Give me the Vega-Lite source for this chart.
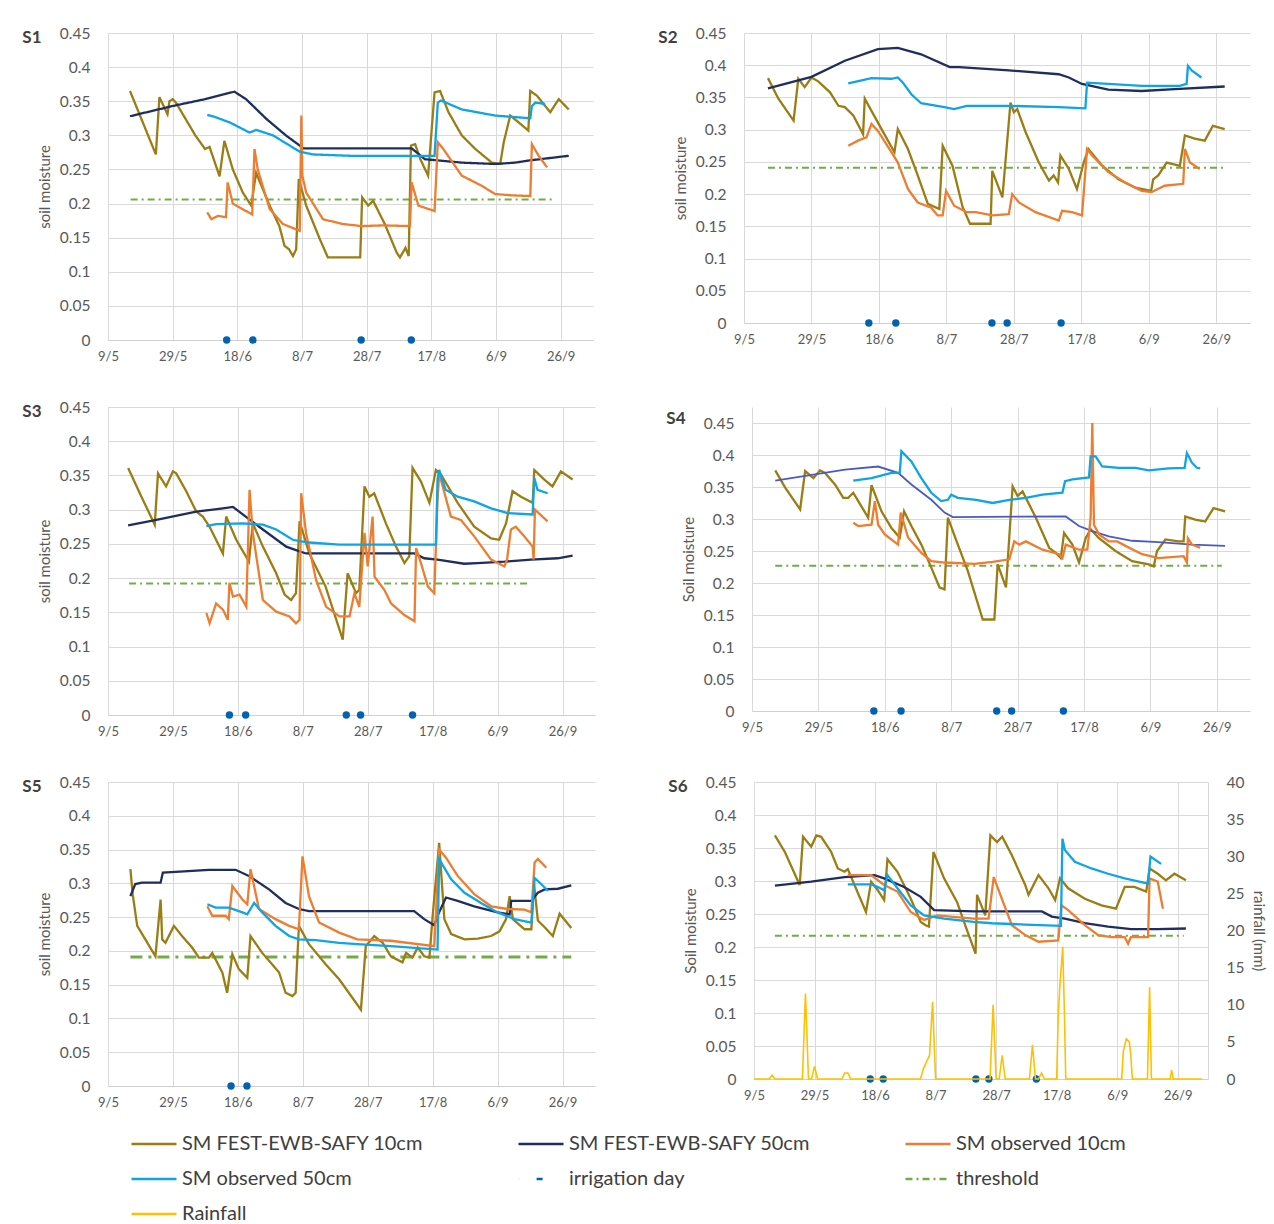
{
  "$schema": "https://vega.github.io/schema/vega-lite/v6.json",
  "background": "white",
  "padding": {"left": 22, "top": 26, "right": 2, "bottom": 2},
  "config": {
    "font": "Lato",
    "view": {"stroke": null},
    "axis": {"grid": true, "gridColor": "#d9d9d9", "gridWidth": 1, "ticks": false, "domain": false, "labelColor": "#595959", "titleColor": "#595959", "titleFontWeight": "normal", "labelFont": "Lato", "titleFont": "Lato"},
    "axisX": {"labelFontSize": 13, "labelPadding": 10, "labelFlush": false, "domain": true, "domainColor": "#d0d0d0"},
    "axisY": {"labelFontSize": 15.5, "labelPadding": 18, "titleFontSize": 15, "titlePadding": 7},
    "title": {"fontSize": 17, "fontWeight": "bold", "color": "#404040", "anchor": "start", "frame": "bounds", "offset": -21, "dx": -15},
    "legend": {"labelFontSize": 20, "labelColor": "#404040", "labelFont": "Lato", "symbolSize": 2025, "symbolStrokeWidth": 2.5, "symbolType": "stroke", "clipHeight": 22, "rowPadding": 13, "columnPadding": 93, "gridAlign": "all", "labelOffset": 4, "labelLimit": 400},
    "line": {"strokeWidth": 2.3},
    "point": {"filled": true, "size": 55, "opacity": 1}
  },
  "datasets": {
    "S1": [
      {"series":"thr","day":7,"sm":0.206},{"series":"thr","day":137.3,"sm":0.206},
      {"series":"m10","day":6.8,"sm":0.365},{"series":"m10","day":14.8,"sm":0.272},{"series":"m10","day":15.9,"sm":0.356},{"series":"m10","day":18.4,"sm":0.331},{"series":"m10","day":19,"sm":0.35},{"series":"m10","day":20,"sm":0.353},{"series":"m10","day":21,"sm":0.348},{"series":"m10","day":24,"sm":0.324},{"series":"m10","day":27,"sm":0.3},{"series":"m10","day":30,"sm":0.28},{"series":"m10","day":31.4,"sm":0.283},{"series":"m10","day":34.5,"sm":0.24},{"series":"m10","day":36,"sm":0.292},{"series":"m10","day":38.6,"sm":0.25},{"series":"m10","day":41.7,"sm":0.216},{"series":"m10","day":44.3,"sm":0.197},{"series":"m10","day":45.8,"sm":0.245},{"series":"m10","day":50,"sm":0.197},{"series":"m10","day":53,"sm":0.167},{"series":"m10","day":54.6,"sm":0.138},{"series":"m10","day":56,"sm":0.133},{"series":"m10","day":57.2,"sm":0.123},{"series":"m10","day":58.2,"sm":0.133},{"series":"m10","day":59,"sm":0.236},{"series":"m10","day":61.3,"sm":0.197},{"series":"m10","day":65.5,"sm":0.148},{"series":"m10","day":68,"sm":0.121},{"series":"m10","day":78,"sm":0.121},{"series":"m10","day":78.6,"sm":0.209},{"series":"m10","day":80.5,"sm":0.197},{"series":"m10","day":82,"sm":0.204},{"series":"m10","day":85.6,"sm":0.17},{"series":"m10","day":89.3,"sm":0.128},{"series":"m10","day":90.3,"sm":0.121},{"series":"m10","day":92,"sm":0.135},{"series":"m10","day":93,"sm":0.123},{"series":"m10","day":93.7,"sm":0.285},{"series":"m10","day":95,"sm":0.287},{"series":"m10","day":96.6,"sm":0.265},{"series":"m10","day":99,"sm":0.241},{"series":"m10","day":101,"sm":0.363},{"series":"m10","day":102.7,"sm":0.365},{"series":"m10","day":105.3,"sm":0.334},{"series":"m10","day":109.4,"sm":0.3},{"series":"m10","day":113.6,"sm":0.28},{"series":"m10","day":118.7,"sm":0.26},{"series":"m10","day":121.3,"sm":0.258},{"series":"m10","day":122.4,"sm":0.29},{"series":"m10","day":124.4,"sm":0.329},{"series":"m10","day":127,"sm":0.319},{"series":"m10","day":130,"sm":0.307},{"series":"m10","day":130.6,"sm":0.365},{"series":"m10","day":132.7,"sm":0.358},{"series":"m10","day":135.2,"sm":0.343},{"series":"m10","day":136.8,"sm":0.334},{"series":"m10","day":139.4,"sm":0.353},{"series":"m10","day":142.5,"sm":0.338},
      {"series":"m50","day":6.8,"sm":0.328},{"series":"m50","day":20,"sm":0.343},{"series":"m50","day":30,"sm":0.353},{"series":"m50","day":39.1,"sm":0.364},{"series":"m50","day":42.7,"sm":0.353},{"series":"m50","day":49,"sm":0.324},{"series":"m50","day":55,"sm":0.3},{"series":"m50","day":59.3,"sm":0.285},{"series":"m50","day":60.3,"sm":0.281},{"series":"m50","day":93.9,"sm":0.281},{"series":"m50","day":98,"sm":0.265},{"series":"m50","day":109.4,"sm":0.26},{"series":"m50","day":119.7,"sm":0.258},{"series":"m50","day":126,"sm":0.26},{"series":"m50","day":130,"sm":0.263},{"series":"m50","day":142.5,"sm":0.27},
      {"series":"o10","day":30.7,"sm":0.187},{"series":"o10","day":32,"sm":0.177},{"series":"o10","day":34,"sm":0.182},{"series":"o10","day":36.5,"sm":0.18},{"series":"o10","day":37,"sm":0.231},{"series":"o10","day":38.6,"sm":0.2},{"series":"o10","day":42.7,"sm":0.189},{"series":"o10","day":44.6,"sm":0.184},{"series":"o10","day":45.3,"sm":0.28},{"series":"o10","day":46.3,"sm":0.25},{"series":"o10","day":50,"sm":0.192},{"series":"o10","day":54.1,"sm":0.17},{"series":"o10","day":59.3,"sm":0.16},{"series":"o10","day":59.8,"sm":0.329},{"series":"o10","day":60.1,"sm":0.241},{"series":"o10","day":61.3,"sm":0.216},{"series":"o10","day":66.5,"sm":0.177},{"series":"o10","day":72.7,"sm":0.17},{"series":"o10","day":78.4,"sm":0.167},{"series":"o10","day":85,"sm":0.168},{"series":"o10","day":93.4,"sm":0.167},{"series":"o10","day":93.9,"sm":0.231},{"series":"o10","day":96,"sm":0.197},{"series":"o10","day":101,"sm":0.189},{"series":"o10","day":102,"sm":0.29},{"series":"o10","day":103.7,"sm":0.28},{"series":"o10","day":109.4,"sm":0.241},{"series":"o10","day":115.6,"sm":0.226},{"series":"o10","day":119.7,"sm":0.214},{"series":"o10","day":125,"sm":0.212},{"series":"o10","day":130.6,"sm":0.211},{"series":"o10","day":131.1,"sm":0.287},{"series":"o10","day":133.2,"sm":0.27},{"series":"o10","day":135.8,"sm":0.253},
      {"series":"o50","day":30.7,"sm":0.33},{"series":"o50","day":33,"sm":0.327},{"series":"o50","day":37.6,"sm":0.319},{"series":"o50","day":43.8,"sm":0.304},{"series":"o50","day":45.8,"sm":0.308},{"series":"o50","day":51,"sm":0.3},{"series":"o50","day":56.2,"sm":0.285},{"series":"o50","day":59.3,"sm":0.276},{"series":"o50","day":63.4,"sm":0.272},{"series":"o50","day":75,"sm":0.27},{"series":"o50","day":93.9,"sm":0.27},{"series":"o50","day":101,"sm":0.27},{"series":"o50","day":102,"sm":0.348},{"series":"o50","day":103,"sm":0.351},{"series":"o50","day":109.4,"sm":0.338},{"series":"o50","day":119.7,"sm":0.329},{"series":"o50","day":130.6,"sm":0.325},{"series":"o50","day":131.1,"sm":0.343},{"series":"o50","day":132.2,"sm":0.348},{"series":"o50","day":135.2,"sm":0.346},
      {"series":"irr","day":36.7,"sm":0},{"series":"irr","day":44.8,"sm":0},{"series":"irr","day":78.3,"sm":0},{"series":"irr","day":93.8,"sm":0}
    ],
    "S2": [
      {"series":"thr","day":7.1,"sm":0.241},{"series":"thr","day":142.5,"sm":0.241},
      {"series":"m10","day":7.1,"sm":0.38},{"series":"m10","day":10.2,"sm":0.348},{"series":"m10","day":14.7,"sm":0.314},{"series":"m10","day":16.1,"sm":0.379},{"series":"m10","day":18,"sm":0.366},{"series":"m10","day":20,"sm":0.381},{"series":"m10","day":22,"sm":0.375},{"series":"m10","day":25.5,"sm":0.358},{"series":"m10","day":28,"sm":0.337},{"series":"m10","day":29.9,"sm":0.335},{"series":"m10","day":32.4,"sm":0.322},{"series":"m10","day":35.3,"sm":0.293},{"series":"m10","day":35.8,"sm":0.348},{"series":"m10","day":39.7,"sm":0.311},{"series":"m10","day":44.6,"sm":0.265},{"series":"m10","day":45.6,"sm":0.301},{"series":"m10","day":48.6,"sm":0.27},{"series":"m10","day":51.5,"sm":0.229},{"series":"m10","day":54.5,"sm":0.185},{"series":"m10","day":57.9,"sm":0.177},{"series":"m10","day":58.9,"sm":0.275},{"series":"m10","day":61.8,"sm":0.244},{"series":"m10","day":64.8,"sm":0.18},{"series":"m10","day":67,"sm":0.154},{"series":"m10","day":73.1,"sm":0.154},{"series":"m10","day":73.6,"sm":0.236},{"series":"m10","day":76.6,"sm":0.195},{"series":"m10","day":79,"sm":0.342},{"series":"m10","day":80,"sm":0.327},{"series":"m10","day":81,"sm":0.332},{"series":"m10","day":83.5,"sm":0.296},{"series":"m10","day":87.4,"sm":0.249},{"series":"m10","day":90.4,"sm":0.221},{"series":"m10","day":91.8,"sm":0.229},{"series":"m10","day":93.1,"sm":0.218},{"series":"m10","day":93.8,"sm":0.26},{"series":"m10","day":96.3,"sm":0.239},{"series":"m10","day":98.7,"sm":0.208},{"series":"m10","day":100.7,"sm":0.249},{"series":"m10","day":102.1,"sm":0.27},{"series":"m10","day":106.2,"sm":0.244},{"series":"m10","day":111,"sm":0.223},{"series":"m10","day":116,"sm":0.21},{"series":"m10","day":120.7,"sm":0.205},{"series":"m10","day":121.3,"sm":0.223},{"series":"m10","day":122.8,"sm":0.229},{"series":"m10","day":125.3,"sm":0.249},{"series":"m10","day":129.2,"sm":0.244},{"series":"m10","day":130.7,"sm":0.291},{"series":"m10","day":133.6,"sm":0.286},{"series":"m10","day":136.6,"sm":0.283},{"series":"m10","day":139,"sm":0.306},{"series":"m10","day":142.5,"sm":0.301},
      {"series":"m50","day":7.1,"sm":0.364},{"series":"m50","day":20,"sm":0.382},{"series":"m50","day":29.9,"sm":0.407},{"series":"m50","day":39.7,"sm":0.425},{"series":"m50","day":45.6,"sm":0.427},{"series":"m50","day":52.5,"sm":0.417},{"series":"m50","day":61,"sm":0.397},{"series":"m50","day":63.8,"sm":0.397},{"series":"m50","day":78.5,"sm":0.392},{"series":"m50","day":93.3,"sm":0.386},{"series":"m50","day":96.3,"sm":0.381},{"series":"m50","day":100.2,"sm":0.371},{"series":"m50","day":108,"sm":0.362},{"series":"m50","day":117.9,"sm":0.36},{"series":"m50","day":127.7,"sm":0.363},{"series":"m50","day":142.5,"sm":0.367},
      {"series":"o10","day":30.9,"sm":0.275},{"series":"o10","day":33.8,"sm":0.283},{"series":"o10","day":36.3,"sm":0.288},{"series":"o10","day":37.8,"sm":0.309},{"series":"o10","day":39.7,"sm":0.298},{"series":"o10","day":43.7,"sm":0.265},{"series":"o10","day":45.6,"sm":0.249},{"series":"o10","day":48.6,"sm":0.208},{"series":"o10","day":51.5,"sm":0.187},{"series":"o10","day":55.5,"sm":0.179},{"series":"o10","day":57.4,"sm":0.167},{"series":"o10","day":58.9,"sm":0.167},{"series":"o10","day":59.9,"sm":0.205},{"series":"o10","day":62.3,"sm":0.182},{"series":"o10","day":66,"sm":0.172},{"series":"o10","day":68.7,"sm":0.172},{"series":"o10","day":73.6,"sm":0.167},{"series":"o10","day":78.5,"sm":0.169},{"series":"o10","day":79.5,"sm":0.2},{"series":"o10","day":81.5,"sm":0.187},{"series":"o10","day":86.4,"sm":0.172},{"series":"o10","day":93.3,"sm":0.159},{"series":"o10","day":94.3,"sm":0.174},{"series":"o10","day":97.3,"sm":0.172},{"series":"o10","day":100.2,"sm":0.167},{"series":"o10","day":101.7,"sm":0.27},{"series":"o10","day":103.2,"sm":0.26},{"series":"o10","day":108,"sm":0.234},{"series":"o10","day":113,"sm":0.218},{"series":"o10","day":117.9,"sm":0.205},{"series":"o10","day":120.8,"sm":0.203},{"series":"o10","day":124.7,"sm":0.213},{"series":"o10","day":130.2,"sm":0.216},{"series":"o10","day":130.7,"sm":0.27},{"series":"o10","day":132.2,"sm":0.249},{"series":"o10","day":135.1,"sm":0.239},
      {"series":"o50","day":30.9,"sm":0.372},{"series":"o50","day":37.8,"sm":0.38},{"series":"o50","day":43.7,"sm":0.379},{"series":"o50","day":45.6,"sm":0.381},{"series":"o50","day":47.1,"sm":0.373},{"series":"o50","day":49.6,"sm":0.355},{"series":"o50","day":52.5,"sm":0.341},{"series":"o50","day":59.4,"sm":0.335},{"series":"o50","day":62.3,"sm":0.332},{"series":"o50","day":66,"sm":0.337},{"series":"o50","day":78.5,"sm":0.337},{"series":"o50","day":93.3,"sm":0.335},{"series":"o50","day":101.2,"sm":0.333},{"series":"o50","day":101.7,"sm":0.373},{"series":"o50","day":108,"sm":0.371},{"series":"o50","day":117.9,"sm":0.368},{"series":"o50","day":129.2,"sm":0.368},{"series":"o50","day":131.2,"sm":0.371},{"series":"o50","day":131.6,"sm":0.399},{"series":"o50","day":132.7,"sm":0.392},{"series":"o50","day":135.6,"sm":0.381},
      {"series":"irr","day":37,"sm":0},{"series":"irr","day":45,"sm":0},{"series":"irr","day":73.5,"sm":0},{"series":"irr","day":78,"sm":0},{"series":"irr","day":94,"sm":0}
    ],
    "S3": [
      {"series":"thr","day":6.5,"sm":0.192},{"series":"thr","day":130.3,"sm":0.192},
      {"series":"m10","day":6.2,"sm":0.361},{"series":"m10","day":10.3,"sm":0.319},{"series":"m10","day":14.4,"sm":0.278},{"series":"m10","day":15.4,"sm":0.353},{"series":"m10","day":17.9,"sm":0.334},{"series":"m10","day":20,"sm":0.356},{"series":"m10","day":21,"sm":0.353},{"series":"m10","day":24.1,"sm":0.327},{"series":"m10","day":27.2,"sm":0.297},{"series":"m10","day":29.2,"sm":0.29},{"series":"m10","day":31.3,"sm":0.275},{"series":"m10","day":35.4,"sm":0.236},{"series":"m10","day":36.4,"sm":0.29},{"series":"m10","day":39.5,"sm":0.256},{"series":"m10","day":43.4,"sm":0.224},{"series":"m10","day":44.6,"sm":0.28},{"series":"m10","day":47.7,"sm":0.246},{"series":"m10","day":51.8,"sm":0.207},{"series":"m10","day":54.4,"sm":0.176},{"series":"m10","day":56.4,"sm":0.168},{"series":"m10","day":57.9,"sm":0.178},{"series":"m10","day":59,"sm":0.283},{"series":"m10","day":62,"sm":0.236},{"series":"m10","day":67,"sm":0.188},{"series":"m10","day":72.3,"sm":0.11},{"series":"m10","day":73.8,"sm":0.207},{"series":"m10","day":76.4,"sm":0.178},{"series":"m10","day":77.4,"sm":0.183},{"series":"m10","day":79,"sm":0.334},{"series":"m10","day":80.5,"sm":0.319},{"series":"m10","day":82,"sm":0.324},{"series":"m10","day":85.6,"sm":0.28},{"series":"m10","day":88.7,"sm":0.246},{"series":"m10","day":91.3,"sm":0.222},{"series":"m10","day":92.8,"sm":0.232},{"series":"m10","day":93.8,"sm":0.361},{"series":"m10","day":96.4,"sm":0.341},{"series":"m10","day":99,"sm":0.31},{"series":"m10","day":101,"sm":0.358},{"series":"m10","day":102.6,"sm":0.351},{"series":"m10","day":107.7,"sm":0.31},{"series":"m10","day":112.8,"sm":0.275},{"series":"m10","day":118,"sm":0.258},{"series":"m10","day":120.5,"sm":0.256},{"series":"m10","day":122.6,"sm":0.28},{"series":"m10","day":124.6,"sm":0.327},{"series":"m10","day":127.2,"sm":0.319},{"series":"m10","day":130.8,"sm":0.31},{"series":"m10","day":131.3,"sm":0.358},{"series":"m10","day":134.4,"sm":0.344},{"series":"m10","day":136.9,"sm":0.334},{"series":"m10","day":139.5,"sm":0.356},{"series":"m10","day":143.1,"sm":0.344},
      {"series":"m50","day":6.2,"sm":0.277},{"series":"m50","day":14.9,"sm":0.285},{"series":"m50","day":27.2,"sm":0.297},{"series":"m50","day":35.4,"sm":0.302},{"series":"m50","day":38.5,"sm":0.304},{"series":"m50","day":41.5,"sm":0.293},{"series":"m50","day":47.7,"sm":0.271},{"series":"m50","day":54.9,"sm":0.246},{"series":"m50","day":57.9,"sm":0.241},{"series":"m50","day":61,"sm":0.236},{"series":"m50","day":94.4,"sm":0.236},{"series":"m50","day":97.4,"sm":0.229},{"series":"m50","day":101.5,"sm":0.227},{"series":"m50","day":109.7,"sm":0.221},{"series":"m50","day":113.8,"sm":0.222},{"series":"m50","day":122.1,"sm":0.224},{"series":"m50","day":130.3,"sm":0.227},{"series":"m50","day":138.5,"sm":0.229},{"series":"m50","day":143.1,"sm":0.233},
      {"series":"o10","day":30.3,"sm":0.149},{"series":"o10","day":31.3,"sm":0.134},{"series":"o10","day":33.3,"sm":0.163},{"series":"o10","day":35.4,"sm":0.154},{"series":"o10","day":36.9,"sm":0.139},{"series":"o10","day":37.4,"sm":0.193},{"series":"o10","day":38.5,"sm":0.173},{"series":"o10","day":40.5,"sm":0.176},{"series":"o10","day":42.6,"sm":0.158},{"series":"o10","day":43.6,"sm":0.329},{"series":"o10","day":44.6,"sm":0.266},{"series":"o10","day":47.7,"sm":0.168},{"series":"o10","day":51.8,"sm":0.151},{"series":"o10","day":55.9,"sm":0.144},{"series":"o10","day":57.9,"sm":0.134},{"series":"o10","day":59,"sm":0.139},{"series":"o10","day":59.5,"sm":0.324},{"series":"o10","day":61,"sm":0.266},{"series":"o10","day":64.1,"sm":0.197},{"series":"o10","day":67.2,"sm":0.158},{"series":"o10","day":71.3,"sm":0.144},{"series":"o10","day":74.4,"sm":0.144},{"series":"o10","day":75.9,"sm":0.178},{"series":"o10","day":77.4,"sm":0.158},{"series":"o10","day":79,"sm":0.266},{"series":"o10","day":80,"sm":0.217},{"series":"o10","day":81.5,"sm":0.29},{"series":"o10","day":82.1,"sm":0.202},{"series":"o10","day":85.1,"sm":0.183},{"series":"o10","day":87.2,"sm":0.163},{"series":"o10","day":91.3,"sm":0.146},{"series":"o10","day":94.4,"sm":0.137},{"series":"o10","day":94.9,"sm":0.244},{"series":"o10","day":96.4,"sm":0.222},{"series":"o10","day":98.5,"sm":0.188},{"series":"o10","day":100.5,"sm":0.178},{"series":"o10","day":101.5,"sm":0.314},{"series":"o10","day":102,"sm":0.353},{"series":"o10","day":105.6,"sm":0.29},{"series":"o10","day":108.7,"sm":0.285},{"series":"o10","day":112.8,"sm":0.261},{"series":"o10","day":118,"sm":0.227},{"series":"o10","day":122.1,"sm":0.217},{"series":"o10","day":122.9,"sm":0.227},{"series":"o10","day":124.1,"sm":0.271},{"series":"o10","day":125.6,"sm":0.275},{"series":"o10","day":128.2,"sm":0.261},{"series":"o10","day":130.8,"sm":0.246},{"series":"o10","day":131.1,"sm":0.227},{"series":"o10","day":131.5,"sm":0.3},{"series":"o10","day":135.4,"sm":0.283},
      {"series":"o50","day":30.3,"sm":0.276},{"series":"o50","day":33.3,"sm":0.279},{"series":"o50","day":41.5,"sm":0.28},{"series":"o50","day":47.7,"sm":0.278},{"series":"o50","day":51.8,"sm":0.271},{"series":"o50","day":56.9,"sm":0.256},{"series":"o50","day":59,"sm":0.254},{"series":"o50","day":62,"sm":0.252},{"series":"o50","day":71.3,"sm":0.249},{"series":"o50","day":87.2,"sm":0.249},{"series":"o50","day":101,"sm":0.249},{"series":"o50","day":101.5,"sm":0.344},{"series":"o50","day":102,"sm":0.358},{"series":"o50","day":104,"sm":0.329},{"series":"o50","day":107.7,"sm":0.319},{"series":"o50","day":112.8,"sm":0.312},{"series":"o50","day":118,"sm":0.302},{"series":"o50","day":123.1,"sm":0.295},{"series":"o50","day":130.8,"sm":0.293},{"series":"o50","day":131.3,"sm":0.346},{"series":"o50","day":132.3,"sm":0.329},{"series":"o50","day":135.4,"sm":0.324},
      {"series":"irr","day":37.4,"sm":0},{"series":"irr","day":42.4,"sm":0},{"series":"irr","day":73.4,"sm":0},{"series":"irr","day":77.8,"sm":0},{"series":"irr","day":93.8,"sm":0}
    ],
    "S4": [
      {"series":"thr","day":7,"sm":0.227},{"series":"thr","day":141.5,"sm":0.227},
      {"series":"m10","day":7,"sm":0.376},{"series":"m10","day":10,"sm":0.349},{"series":"m10","day":14.5,"sm":0.315},{"series":"m10","day":16,"sm":0.375},{"series":"m10","day":18.5,"sm":0.364},{"series":"m10","day":20.5,"sm":0.376},{"series":"m10","day":22,"sm":0.372},{"series":"m10","day":25,"sm":0.354},{"series":"m10","day":27.5,"sm":0.333},{"series":"m10","day":29,"sm":0.333},{"series":"m10","day":30.5,"sm":0.341},{"series":"m10","day":32,"sm":0.328},{"series":"m10","day":35,"sm":0.302},{"series":"m10","day":36,"sm":0.353},{"series":"m10","day":39,"sm":0.312},{"series":"m10","day":42,"sm":0.286},{"series":"m10","day":44.5,"sm":0.271},{"series":"m10","day":45.8,"sm":0.312},{"series":"m10","day":48,"sm":0.289},{"series":"m10","day":51,"sm":0.26},{"series":"m10","day":54,"sm":0.224},{"series":"m10","day":56.5,"sm":0.193},{"series":"m10","day":58,"sm":0.19},{"series":"m10","day":59,"sm":0.302},{"series":"m10","day":62,"sm":0.26},{"series":"m10","day":65,"sm":0.219},{"series":"m10","day":69.5,"sm":0.143},{"series":"m10","day":73,"sm":0.143},{"series":"m10","day":74,"sm":0.229},{"series":"m10","day":76.5,"sm":0.193},{"series":"m10","day":78.5,"sm":0.351},{"series":"m10","day":80,"sm":0.336},{"series":"m10","day":81.5,"sm":0.343},{"series":"m10","day":85.5,"sm":0.302},{"series":"m10","day":89.5,"sm":0.255},{"series":"m10","day":91.5,"sm":0.247},{"series":"m10","day":93,"sm":0.239},{"series":"m10","day":94,"sm":0.278},{"series":"m10","day":96.5,"sm":0.26},{"series":"m10","day":98.5,"sm":0.232},{"series":"m10","day":100.5,"sm":0.27},{"series":"m10","day":102,"sm":0.284},{"series":"m10","day":104.5,"sm":0.27},{"series":"m10","day":109.5,"sm":0.25},{"series":"m10","day":114.5,"sm":0.234},{"series":"m10","day":119.5,"sm":0.229},{"series":"m10","day":121,"sm":0.226},{"series":"m10","day":122,"sm":0.25},{"series":"m10","day":124.5,"sm":0.268},{"series":"m10","day":128.5,"sm":0.265},{"series":"m10","day":130,"sm":0.265},{"series":"m10","day":130.5,"sm":0.304},{"series":"m10","day":133.5,"sm":0.299},{"series":"m10","day":136.5,"sm":0.296},{"series":"m10","day":139,"sm":0.317},{"series":"m10","day":142.5,"sm":0.312},
      {"series":"m50","day":7,"sm":0.36},{"series":"m50","day":18,"sm":0.369},{"series":"m50","day":28,"sm":0.377},{"series":"m50","day":38,"sm":0.382},{"series":"m50","day":44,"sm":0.372},{"series":"m50","day":48,"sm":0.354},{"series":"m50","day":54,"sm":0.33},{"series":"m50","day":58,"sm":0.31},{"series":"m50","day":60.5,"sm":0.303},{"series":"m50","day":94.5,"sm":0.304},{"series":"m50","day":98.5,"sm":0.289},{"series":"m50","day":102.5,"sm":0.281},{"series":"m50","day":107.5,"sm":0.273},{"series":"m50","day":114.5,"sm":0.266},{"series":"m50","day":122.5,"sm":0.264},{"series":"m50","day":132.5,"sm":0.26},{"series":"m50","day":142.5,"sm":0.258},
      {"series":"o10","day":30.5,"sm":0.294},{"series":"o10","day":32,"sm":0.289},{"series":"o10","day":36,"sm":0.291},{"series":"o10","day":37,"sm":0.328},{"series":"o10","day":38,"sm":0.291},{"series":"o10","day":40,"sm":0.276},{"series":"o10","day":44,"sm":0.26},{"series":"o10","day":44.8,"sm":0.31},{"series":"o10","day":47,"sm":0.271},{"series":"o10","day":51,"sm":0.247},{"series":"o10","day":54,"sm":0.234},{"series":"o10","day":58,"sm":0.232},{"series":"o10","day":67,"sm":0.23},{"series":"o10","day":72.5,"sm":0.233},{"series":"o10","day":77.5,"sm":0.237},{"series":"o10","day":79,"sm":0.265},{"series":"o10","day":80.5,"sm":0.26},{"series":"o10","day":82.5,"sm":0.265},{"series":"o10","day":87.5,"sm":0.252},{"series":"o10","day":92.5,"sm":0.245},{"series":"o10","day":93.5,"sm":0.239},{"series":"o10","day":94.5,"sm":0.26},{"series":"o10","day":98.5,"sm":0.252},{"series":"o10","day":101,"sm":0.252},{"series":"o10","day":102,"sm":0.302},{"series":"o10","day":102.5,"sm":0.45},{"series":"o10","day":103,"sm":0.291},{"series":"o10","day":104.5,"sm":0.276},{"series":"o10","day":107.5,"sm":0.265},{"series":"o10","day":110,"sm":0.265},{"series":"o10","day":112.5,"sm":0.258},{"series":"o10","day":117.5,"sm":0.245},{"series":"o10","day":122.5,"sm":0.239},{"series":"o10","day":130,"sm":0.242},{"series":"o10","day":131,"sm":0.232},{"series":"o10","day":131.3,"sm":0.27},{"series":"o10","day":132.5,"sm":0.26},{"series":"o10","day":135,"sm":0.255},
      {"series":"o50","day":30.5,"sm":0.36},{"series":"o50","day":36,"sm":0.364},{"series":"o50","day":42,"sm":0.372},{"series":"o50","day":44.5,"sm":0.372},{"series":"o50","day":45,"sm":0.406},{"series":"o50","day":48,"sm":0.39},{"series":"o50","day":51,"sm":0.364},{"series":"o50","day":54,"sm":0.341},{"series":"o50","day":57,"sm":0.328},{"series":"o50","day":59,"sm":0.33},{"series":"o50","day":60,"sm":0.338},{"series":"o50","day":62,"sm":0.333},{"series":"o50","day":67.5,"sm":0.33},{"series":"o50","day":72.5,"sm":0.325},{"series":"o50","day":77.5,"sm":0.33},{"series":"o50","day":82.5,"sm":0.333},{"series":"o50","day":87.5,"sm":0.338},{"series":"o50","day":93.5,"sm":0.341},{"series":"o50","day":94.3,"sm":0.359},{"series":"o50","day":96.5,"sm":0.362},{"series":"o50","day":101.5,"sm":0.365},{"series":"o50","day":102,"sm":0.398},{"series":"o50","day":103.5,"sm":0.398},{"series":"o50","day":105.5,"sm":0.382},{"series":"o50","day":110.5,"sm":0.38},{"series":"o50","day":115.5,"sm":0.38},{"series":"o50","day":119.5,"sm":0.376},{"series":"o50","day":125.5,"sm":0.379},{"series":"o50","day":130.3,"sm":0.38},{"series":"o50","day":131,"sm":0.403},{"series":"o50","day":132.5,"sm":0.388},{"series":"o50","day":134,"sm":0.38},{"series":"o50","day":135,"sm":0.379},
      {"series":"irr","day":36.7,"sm":0},{"series":"irr","day":44.9,"sm":0},{"series":"irr","day":73.7,"sm":0},{"series":"irr","day":78.2,"sm":0},{"series":"irr","day":93.8,"sm":0}
    ],
    "S5": [
      {"series":"thr","day":6.9,"sm":0.191},{"series":"thr","day":142.7,"sm":0.191},
      {"series":"m10","day":6.9,"sm":0.321},{"series":"m10","day":7.6,"sm":0.284},{"series":"m10","day":9,"sm":0.237},{"series":"m10","day":11.5,"sm":0.217},{"series":"m10","day":14.6,"sm":0.192},{"series":"m10","day":16.2,"sm":0.276},{"series":"m10","day":16.7,"sm":0.217},{"series":"m10","day":17.7,"sm":0.212},{"series":"m10","day":20.3,"sm":0.237},{"series":"m10","day":22.8,"sm":0.222},{"series":"m10","day":25.9,"sm":0.205},{"series":"m10","day":28,"sm":0.19},{"series":"m10","day":31.1,"sm":0.19},{"series":"m10","day":32.1,"sm":0.197},{"series":"m10","day":35.2,"sm":0.168},{"series":"m10","day":36.7,"sm":0.138},{"series":"m10","day":38.3,"sm":0.195},{"series":"m10","day":40.3,"sm":0.173},{"series":"m10","day":42.9,"sm":0.16},{"series":"m10","day":43.9,"sm":0.222},{"series":"m10","day":47.5,"sm":0.197},{"series":"m10","day":50.6,"sm":0.18},{"series":"m10","day":52.7,"sm":0.168},{"series":"m10","day":54.7,"sm":0.138},{"series":"m10","day":56.8,"sm":0.133},{"series":"m10","day":57.8,"sm":0.138},{"series":"m10","day":58.8,"sm":0.237},{"series":"m10","day":61.9,"sm":0.21},{"series":"m10","day":67.1,"sm":0.18},{"series":"m10","day":71.2,"sm":0.158},{"series":"m10","day":77.9,"sm":0.113},{"series":"m10","day":79.4,"sm":0.207},{"series":"m10","day":82,"sm":0.222},{"series":"m10","day":84.6,"sm":0.212},{"series":"m10","day":87.1,"sm":0.192},{"series":"m10","day":90.7,"sm":0.183},{"series":"m10","day":91.8,"sm":0.197},{"series":"m10","day":93.8,"sm":0.19},{"series":"m10","day":95.4,"sm":0.205},{"series":"m10","day":97.4,"sm":0.192},{"series":"m10","day":99,"sm":0.19},{"series":"m10","day":100,"sm":0.252},{"series":"m10","day":102,"sm":0.36},{"series":"m10","day":103.6,"sm":0.247},{"series":"m10","day":105.7,"sm":0.225},{"series":"m10","day":109.8,"sm":0.217},{"series":"m10","day":113.9,"sm":0.218},{"series":"m10","day":118,"sm":0.222},{"series":"m10","day":120.6,"sm":0.229},{"series":"m10","day":122.6,"sm":0.247},{"series":"m10","day":123.7,"sm":0.281},{"series":"m10","day":124.7,"sm":0.247},{"series":"m10","day":128.3,"sm":0.232},{"series":"m10","day":130.4,"sm":0.232},{"series":"m10","day":131.2,"sm":0.3},{"series":"m10","day":132.4,"sm":0.245},{"series":"m10","day":134.5,"sm":0.235},{"series":"m10","day":137,"sm":0.222},{"series":"m10","day":139.1,"sm":0.255},{"series":"m10","day":142.7,"sm":0.234},
      {"series":"m50","day":6.9,"sm":0.281},{"series":"m50","day":8.4,"sm":0.299},{"series":"m50","day":10.5,"sm":0.301},{"series":"m50","day":16.2,"sm":0.301},{"series":"m50","day":16.9,"sm":0.316},{"series":"m50","day":20.8,"sm":0.317},{"series":"m50","day":31.1,"sm":0.32},{"series":"m50","day":39.3,"sm":0.32},{"series":"m50","day":43.4,"sm":0.311},{"series":"m50","day":49.6,"sm":0.291},{"series":"m50","day":54.7,"sm":0.271},{"series":"m50","day":58.8,"sm":0.262},{"series":"m50","day":61.9,"sm":0.259},{"series":"m50","day":94.3,"sm":0.259},{"series":"m50","day":97.4,"sm":0.247},{"series":"m50","day":100.5,"sm":0.238},{"series":"m50","day":101.5,"sm":0.252},{"series":"m50","day":104.1,"sm":0.279},{"series":"m50","day":107.7,"sm":0.274},{"series":"m50","day":112.8,"sm":0.266},{"series":"m50","day":120,"sm":0.257},{"series":"m50","day":123.7,"sm":0.254},{"series":"m50","day":124.2,"sm":0.274},{"series":"m50","day":130.4,"sm":0.274},{"series":"m50","day":132.4,"sm":0.286},{"series":"m50","day":134.5,"sm":0.291},{"series":"m50","day":138.6,"sm":0.292},{"series":"m50","day":142.7,"sm":0.297},
      {"series":"o10","day":30.6,"sm":0.266},{"series":"o10","day":32.1,"sm":0.252},{"series":"o10","day":36.2,"sm":0.252},{"series":"o10","day":37.2,"sm":0.247},{"series":"o10","day":38.3,"sm":0.296},{"series":"o10","day":41.4,"sm":0.276},{"series":"o10","day":42.9,"sm":0.269},{"series":"o10","day":43.9,"sm":0.321},{"series":"o10","day":46.5,"sm":0.262},{"series":"o10","day":51.6,"sm":0.247},{"series":"o10","day":55.8,"sm":0.237},{"series":"o10","day":58.8,"sm":0.232},{"series":"o10","day":59.9,"sm":0.34},{"series":"o10","day":61.9,"sm":0.281},{"series":"o10","day":65,"sm":0.242},{"series":"o10","day":71.2,"sm":0.227},{"series":"o10","day":76.8,"sm":0.217},{"series":"o10","day":87.1,"sm":0.215},{"series":"o10","day":100.5,"sm":0.207},{"series":"o10","day":102,"sm":0.35},{"series":"o10","day":104.1,"sm":0.338},{"series":"o10","day":107.7,"sm":0.311},{"series":"o10","day":112.8,"sm":0.284},{"series":"o10","day":118,"sm":0.266},{"series":"o10","day":123.1,"sm":0.262},{"series":"o10","day":128.3,"sm":0.261},{"series":"o10","day":130.4,"sm":0.257},{"series":"o10","day":131.4,"sm":0.331},{"series":"o10","day":132.4,"sm":0.336},{"series":"o10","day":135,"sm":0.323},
      {"series":"o50","day":30.6,"sm":0.269},{"series":"o50","day":33.1,"sm":0.264},{"series":"o50","day":37.2,"sm":0.264},{"series":"o50","day":41.4,"sm":0.257},{"series":"o50","day":42.9,"sm":0.254},{"series":"o50","day":45,"sm":0.271},{"series":"o50","day":47.5,"sm":0.257},{"series":"o50","day":51.6,"sm":0.237},{"series":"o50","day":55.8,"sm":0.222},{"series":"o50","day":58.8,"sm":0.217},{"series":"o50","day":64,"sm":0.216},{"series":"o50","day":71.2,"sm":0.212},{"series":"o50","day":76.8,"sm":0.21},{"series":"o50","day":87.1,"sm":0.207},{"series":"o50","day":101.5,"sm":0.202},{"series":"o50","day":102,"sm":0.336},{"series":"o50","day":103.6,"sm":0.323},{"series":"o50","day":105.7,"sm":0.306},{"series":"o50","day":109.8,"sm":0.286},{"series":"o50","day":114.9,"sm":0.271},{"series":"o50","day":120,"sm":0.257},{"series":"o50","day":125.2,"sm":0.247},{"series":"o50","day":130.4,"sm":0.242},{"series":"o50","day":131.4,"sm":0.308},{"series":"o50","day":133.4,"sm":0.299},{"series":"o50","day":135.5,"sm":0.289},
      {"series":"irr","day":37.9,"sm":0},{"series":"irr","day":42.8,"sm":0}
    ],
    "S6": [
      {"series":"thr","day":6.9,"sm":0.217},{"series":"thr","day":142,"sm":0.217},
      {"series":"m10","day":6.9,"sm":0.369},{"series":"m10","day":10.2,"sm":0.344},{"series":"m10","day":15.1,"sm":0.294},{"series":"m10","day":16.2,"sm":0.367},{"series":"m10","day":18.9,"sm":0.352},{"series":"m10","day":20.6,"sm":0.369},{"series":"m10","day":22.2,"sm":0.367},{"series":"m10","day":25.5,"sm":0.344},{"series":"m10","day":27.7,"sm":0.319},{"series":"m10","day":29.9,"sm":0.314},{"series":"m10","day":31,"sm":0.318},{"series":"m10","day":33.2,"sm":0.294},{"series":"m10","day":37,"sm":0.253},{"series":"m10","day":38.7,"sm":0.299},{"series":"m10","day":40.9,"sm":0.286},{"series":"m10","day":43,"sm":0.271},{"series":"m10","day":44.1,"sm":0.333},{"series":"m10","day":47.4,"sm":0.314},{"series":"m10","day":51.8,"sm":0.273},{"series":"m10","day":55.1,"sm":0.238},{"series":"m10","day":56.7,"sm":0.233},{"series":"m10","day":57.8,"sm":0.231},{"series":"m10","day":59.3,"sm":0.344},{"series":"m10","day":62.8,"sm":0.304},{"series":"m10","day":67.1,"sm":0.268},{"series":"m10","day":70,"sm":0.23},{"series":"m10","day":73.2,"sm":0.19},{"series":"m10","day":73.7,"sm":0.279},{"series":"m10","day":76.4,"sm":0.248},{"series":"m10","day":78.1,"sm":0.369},{"series":"m10","day":80.3,"sm":0.359},{"series":"m10","day":82,"sm":0.367},{"series":"m10","day":85.2,"sm":0.339},{"series":"m10","day":89.6,"sm":0.294},{"series":"m10","day":90.7,"sm":0.279},{"series":"m10","day":91.8,"sm":0.289},{"series":"m10","day":94,"sm":0.309},{"series":"m10","day":97.3,"sm":0.289},{"series":"m10","day":99.5,"sm":0.271},{"series":"m10","day":101.1,"sm":0.304},{"series":"m10","day":103.8,"sm":0.289},{"series":"m10","day":109.3,"sm":0.273},{"series":"m10","day":114.8,"sm":0.263},{"series":"m10","day":119.6,"sm":0.258},{"series":"m10","day":122.5,"sm":0.291},{"series":"m10","day":125.7,"sm":0.291},{"series":"m10","day":129.6,"sm":0.284},{"series":"m10","day":130.7,"sm":0.319},{"series":"m10","day":133.4,"sm":0.311},{"series":"m10","day":136.1,"sm":0.301},{"series":"m10","day":138.9,"sm":0.311},{"series":"m10","day":142.7,"sm":0.301},
      {"series":"m50","day":6.9,"sm":0.293},{"series":"m50","day":18.9,"sm":0.299},{"series":"m50","day":29.9,"sm":0.306},{"series":"m50","day":39.8,"sm":0.309},{"series":"m50","day":43,"sm":0.304},{"series":"m50","day":49.6,"sm":0.291},{"series":"m50","day":55.1,"sm":0.276},{"series":"m50","day":59.5,"sm":0.256},{"series":"m50","day":72.6,"sm":0.254},{"series":"m50","day":95.1,"sm":0.254},{"series":"m50","day":98.4,"sm":0.246},{"series":"m50","day":102.7,"sm":0.243},{"series":"m50","day":109.3,"sm":0.236},{"series":"m50","day":117,"sm":0.231},{"series":"m50","day":124.6,"sm":0.227},{"series":"m50","day":133.4,"sm":0.227},{"series":"m50","day":142.7,"sm":0.228},
      {"series":"o10","day":31,"sm":0.309},{"series":"o10","day":38.7,"sm":0.309},{"series":"o10","day":43,"sm":0.294},{"series":"o10","day":47.4,"sm":0.284},{"series":"o10","day":51.8,"sm":0.253},{"series":"o10","day":56.2,"sm":0.241},{"series":"o10","day":60.6,"sm":0.248},{"series":"o10","day":64.9,"sm":0.246},{"series":"o10","day":72.6,"sm":0.243},{"series":"o10","day":77.5,"sm":0.243},{"series":"o10","day":79.2,"sm":0.306},{"series":"o10","day":81.9,"sm":0.273},{"series":"o10","day":85.2,"sm":0.233},{"series":"o10","day":89.6,"sm":0.218},{"series":"o10","day":94,"sm":0.208},{"series":"o10","day":100.5,"sm":0.21},{"series":"o10","day":101.6,"sm":0.263},{"series":"o10","day":103.8,"sm":0.256},{"series":"o10","day":109.3,"sm":0.233},{"series":"o10","day":113.7,"sm":0.218},{"series":"o10","day":118.1,"sm":0.215},{"series":"o10","day":122.5,"sm":0.215},{"series":"o10","day":123.6,"sm":0.205},{"series":"o10","day":124.5,"sm":0.215},{"series":"o10","day":130.2,"sm":0.215},{"series":"o10","day":130.7,"sm":0.304},{"series":"o10","day":133.4,"sm":0.299},{"series":"o10","day":135.1,"sm":0.258},
      {"series":"o50","day":31,"sm":0.295},{"series":"o50","day":38.7,"sm":0.295},{"series":"o50","day":40.9,"sm":0.291},{"series":"o50","day":43,"sm":0.286},{"series":"o50","day":44.1,"sm":0.309},{"series":"o50","day":47.4,"sm":0.289},{"series":"o50","day":51.8,"sm":0.263},{"series":"o50","day":56.2,"sm":0.248},{"series":"o50","day":62.8,"sm":0.243},{"series":"o50","day":72.6,"sm":0.238},{"series":"o50","day":78.6,"sm":0.236},{"series":"o50","day":89.6,"sm":0.234},{"series":"o50","day":101.4,"sm":0.232},{"series":"o50","day":101.9,"sm":0.364},{"series":"o50","day":102.7,"sm":0.347},{"series":"o50","day":106,"sm":0.329},{"series":"o50","day":111.5,"sm":0.319},{"series":"o50","day":117,"sm":0.311},{"series":"o50","day":122.5,"sm":0.304},{"series":"o50","day":130.2,"sm":0.296},{"series":"o50","day":131,"sm":0.337},{"series":"o50","day":134.5,"sm":0.326},
      {"series":"irr","day":38.4,"sm":0},{"series":"irr","day":42.7,"sm":0},{"series":"irr","day":73.3,"sm":0},{"series":"irr","day":77.6,"sm":0},{"series":"irr","day":93.3,"sm":0},
      {"series":"rain","day":0,"rain":0},{"series":"rain","day":5,"rain":0},{"series":"rain","day":6,"rain":0.5},{"series":"rain","day":7,"rain":0},{"series":"rain","day":16,"rain":0},{"series":"rain","day":17,"rain":11.5},{"series":"rain","day":18,"rain":0},{"series":"rain","day":19,"rain":0},{"series":"rain","day":20,"rain":1.7},{"series":"rain","day":21,"rain":0},{"series":"rain","day":29,"rain":0},{"series":"rain","day":30,"rain":0.8},{"series":"rain","day":31,"rain":0.8},{"series":"rain","day":32,"rain":0},{"series":"rain","day":55,"rain":0},{"series":"rain","day":56,"rain":1.4},{"series":"rain","day":57,"rain":2.3},{"series":"rain","day":58,"rain":3.2},{"series":"rain","day":59,"rain":10.4},{"series":"rain","day":60,"rain":0},{"series":"rain","day":78,"rain":0},{"series":"rain","day":79,"rain":10},{"series":"rain","day":80,"rain":0},{"series":"rain","day":81,"rain":0},{"series":"rain","day":82,"rain":3.2},{"series":"rain","day":83,"rain":0},{"series":"rain","day":91,"rain":0},{"series":"rain","day":92,"rain":4.6},{"series":"rain","day":93,"rain":0},{"series":"rain","day":94,"rain":0},{"series":"rain","day":95,"rain":0.8},{"series":"rain","day":96,"rain":0},{"series":"rain","day":100,"rain":0},{"series":"rain","day":100.5,"rain":8.2},{"series":"rain","day":101,"rain":12.2},{"series":"rain","day":102,"rain":17.8},{"series":"rain","day":102.5,"rain":10},{"series":"rain","day":103,"rain":0},{"series":"rain","day":121.5,"rain":0},{"series":"rain","day":122,"rain":3.7},{"series":"rain","day":123,"rain":5.4},{"series":"rain","day":124,"rain":5},{"series":"rain","day":124.5,"rain":3.2},{"series":"rain","day":125,"rain":0},{"series":"rain","day":130,"rain":0},{"series":"rain","day":130.7,"rain":12.4},{"series":"rain","day":131.3,"rain":0},{"series":"rain","day":137.5,"rain":0},{"series":"rain","day":138,"rain":1.2},{"series":"rain","day":138.5,"rain":0},{"series":"rain","day":148,"rain":0}
    ]
  },
  "spacing": 37,
  "vconcat": [
    {
      "spacing": 65,
      "hconcat": [
        {
          "data": {"name": "S1"}, "width": 485, "height": 307, "title": "S1",
          "encoding": {
            "x": {"field": "day", "type": "quantitative", "scale": {"domain": [0, 150], "nice": false, "zero": false}, "axis": {"title": null, "values": [0, 20, 40, 60, 80, 100, 120, 140], "labelExpr": "['9/5','29/5','18/6','8/7','28/7','17/8','6/9','26/9'][round(datum.value / 20)]"}},
            "y": {"field": "sm", "type": "quantitative", "scale": {"domain": [0, 0.45], "nice": false}, "axis": {"title": "soil moisture", "values": [0, 0.05, 0.1, 0.15, 0.2, 0.25, 0.3, 0.35, 0.4, 0.45], "format": ".2~f"}},
            "color": {"field": "series", "type": "nominal", "scale": {"domain": ["m10", "m50", "o10", "o50", "irr", "thr", "rain"], "range": ["#9b7d14", "#1f2d5f", "#ed7d31", "#0fa4e4", "#0063b1", "#70ad47", "#ffc000"]}, "legend": {"title": null, "orient": "none", "legendX": 22, "legendY": 1100, "columns": 3, "direction": "horizontal", "labelExpr": "datum.value === 'm10' ? 'SM FEST-EWB-SAFY 10cm' : datum.value === 'm50' ? 'SM FEST-EWB-SAFY 50cm' : datum.value === 'o10' ? 'SM observed 10cm' : datum.value === 'o50' ? 'SM observed 50cm' : datum.value === 'irr' ? 'irrigation day' : datum.value === 'thr' ? 'threshold' : 'Rainfall'"}}
          },
          "layer": [
            {"transform": [{"filter": "datum.series === 'thr'"}], "mark": {"type": "line", "strokeWidth": 2}, "encoding": {"strokeDash": {"field": "series", "type": "nominal", "scale": {"domain": ["m10", "m50", "o10", "o50", "irr", "thr", "rain"], "range": [[1, 0], [1, 0], [1, 0], [1, 0], [0.1, 18, 6, 100], [7, 4, 2, 4], [1, 0]]}, "legend": {"title": null, "orient": "none", "legendX": 22, "legendY": 1100, "columns": 3, "direction": "horizontal", "labelExpr": "datum.value === 'm10' ? 'SM FEST-EWB-SAFY 10cm' : datum.value === 'm50' ? 'SM FEST-EWB-SAFY 50cm' : datum.value === 'o10' ? 'SM observed 10cm' : datum.value === 'o50' ? 'SM observed 50cm' : datum.value === 'irr' ? 'irrigation day' : datum.value === 'thr' ? 'threshold' : 'Rainfall'"}}}},
            {"transform": [{"filter": "datum.series !== 'thr' && datum.series !== 'irr'"}], "mark": {"type": "line"}, "encoding": {"strokeDash": {"field": "series", "type": "nominal", "scale": {"domain": ["m10", "m50", "o10", "o50", "irr", "thr", "rain"], "range": [[1, 0], [1, 0], [1, 0], [1, 0], [0.1, 18, 6, 100], [7, 4, 2, 4], [1, 0]]}, "legend": {"title": null, "orient": "none", "legendX": 22, "legendY": 1100, "columns": 3, "direction": "horizontal", "labelExpr": "datum.value === 'm10' ? 'SM FEST-EWB-SAFY 10cm' : datum.value === 'm50' ? 'SM FEST-EWB-SAFY 50cm' : datum.value === 'o10' ? 'SM observed 10cm' : datum.value === 'o50' ? 'SM observed 50cm' : datum.value === 'irr' ? 'irrigation day' : datum.value === 'thr' ? 'threshold' : 'Rainfall'"}}}},
            {"transform": [{"filter": "datum.series === 'irr'"}], "mark": {"type": "point"}, "encoding": {}}
          ]
        },
        {
          "data": {"name": "S2"}, "width": 506, "height": 290, "title": "S2",
          "encoding": {
            "x": {"field": "day", "type": "quantitative", "scale": {"domain": [0, 150], "nice": false, "zero": false}, "axis": {"title": null, "values": [0, 20, 40, 60, 80, 100, 120, 140], "labelExpr": "['9/5','29/5','18/6','8/7','28/7','17/8','6/9','26/9'][round(datum.value / 20)]"}},
            "y": {"field": "sm", "type": "quantitative", "scale": {"domain": [0, 0.45], "nice": false}, "axis": {"title": "soil moisture", "values": [0, 0.05, 0.1, 0.15, 0.2, 0.25, 0.3, 0.35, 0.4, 0.45], "format": ".2~f"}},
            "color": {"field": "series", "type": "nominal", "scale": {"domain": ["m10", "m50", "o10", "o50", "irr", "thr", "rain"], "range": ["#9b7d14", "#1f2d5f", "#ed7d31", "#0fa4e4", "#0063b1", "#70ad47", "#ffc000"]}, "legend": {"title": null, "orient": "none", "legendX": 22, "legendY": 1100, "columns": 3, "direction": "horizontal", "labelExpr": "datum.value === 'm10' ? 'SM FEST-EWB-SAFY 10cm' : datum.value === 'm50' ? 'SM FEST-EWB-SAFY 50cm' : datum.value === 'o10' ? 'SM observed 10cm' : datum.value === 'o50' ? 'SM observed 50cm' : datum.value === 'irr' ? 'irrigation day' : datum.value === 'thr' ? 'threshold' : 'Rainfall'"}}
          },
          "layer": [
            {"transform": [{"filter": "datum.series === 'thr'"}], "mark": {"type": "line", "strokeWidth": 2}, "encoding": {"strokeDash": {"field": "series", "type": "nominal", "scale": {"domain": ["m10", "m50", "o10", "o50", "irr", "thr", "rain"], "range": [[1, 0], [1, 0], [1, 0], [1, 0], [0.1, 18, 6, 100], [7, 4, 2, 4], [1, 0]]}, "legend": {"title": null, "orient": "none", "legendX": 22, "legendY": 1100, "columns": 3, "direction": "horizontal", "labelExpr": "datum.value === 'm10' ? 'SM FEST-EWB-SAFY 10cm' : datum.value === 'm50' ? 'SM FEST-EWB-SAFY 50cm' : datum.value === 'o10' ? 'SM observed 10cm' : datum.value === 'o50' ? 'SM observed 50cm' : datum.value === 'irr' ? 'irrigation day' : datum.value === 'thr' ? 'threshold' : 'Rainfall'"}}}},
            {"transform": [{"filter": "datum.series !== 'thr' && datum.series !== 'irr'"}], "mark": {"type": "line"}, "encoding": {}},
            {"transform": [{"filter": "datum.series === 'irr'"}], "mark": {"type": "point"}, "encoding": {}}
          ]
        }
      ]
    },
    {
      "spacing": 71,
      "hconcat": [
        {
          "data": {"name": "S3"}, "width": 487, "height": 308, "title": "S3",
          "encoding": {
            "x": {"field": "day", "type": "quantitative", "scale": {"domain": [0, 150], "nice": false, "zero": false}, "axis": {"title": null, "values": [0, 20, 40, 60, 80, 100, 120, 140], "labelExpr": "['9/5','29/5','18/6','8/7','28/7','17/8','6/9','26/9'][round(datum.value / 20)]"}},
            "y": {"field": "sm", "type": "quantitative", "scale": {"domain": [0, 0.45], "nice": false}, "axis": {"title": "soil moisture", "values": [0, 0.05, 0.1, 0.15, 0.2, 0.25, 0.3, 0.35, 0.4, 0.45], "format": ".2~f"}},
            "color": {"field": "series", "type": "nominal", "scale": {"domain": ["m10", "m50", "o10", "o50", "irr", "thr", "rain"], "range": ["#9b7d14", "#1f2d5f", "#ed7d31", "#0fa4e4", "#0063b1", "#70ad47", "#ffc000"]}, "legend": {"title": null, "orient": "none", "legendX": 22, "legendY": 1100, "columns": 3, "direction": "horizontal", "labelExpr": "datum.value === 'm10' ? 'SM FEST-EWB-SAFY 10cm' : datum.value === 'm50' ? 'SM FEST-EWB-SAFY 50cm' : datum.value === 'o10' ? 'SM observed 10cm' : datum.value === 'o50' ? 'SM observed 50cm' : datum.value === 'irr' ? 'irrigation day' : datum.value === 'thr' ? 'threshold' : 'Rainfall'"}}
          },
          "layer": [
            {"transform": [{"filter": "datum.series === 'thr'"}], "mark": {"type": "line", "strokeDash": [7, 4, 2, 4], "strokeWidth": 2}, "encoding": {}},
            {"transform": [{"filter": "datum.series !== 'thr' && datum.series !== 'irr'"}], "mark": {"type": "line"}, "encoding": {}},
            {"transform": [{"filter": "datum.series === 'irr'"}], "mark": {"type": "point"}, "encoding": {}}
          ]
        },
        {
          "data": {"name": "S4"}, "width": 498, "height": 304, "title": "S4",
          "encoding": {
            "x": {"field": "day", "type": "quantitative", "scale": {"domain": [0, 150], "nice": false, "zero": false}, "axis": {"title": null, "values": [0, 20, 40, 60, 80, 100, 120, 140], "labelExpr": "['9/5','29/5','18/6','8/7','28/7','17/8','6/9','26/9'][round(datum.value / 20)]"}},
            "y": {"field": "sm", "type": "quantitative", "scale": {"domain": [0, 0.475], "nice": false}, "axis": {"title": "Soil moisture", "values": [0, 0.05, 0.1, 0.15, 0.2, 0.25, 0.3, 0.35, 0.4, 0.45], "format": ".2~f"}},
            "color": {"field": "series", "type": "nominal", "scale": {"domain": ["m10", "m50", "o10", "o50", "irr", "thr", "rain"], "range": ["#9b7d14", "#1f2d5f", "#ed7d31", "#0fa4e4", "#0063b1", "#70ad47", "#ffc000"]}, "legend": {"title": null, "orient": "none", "legendX": 22, "legendY": 1100, "columns": 3, "direction": "horizontal", "labelExpr": "datum.value === 'm10' ? 'SM FEST-EWB-SAFY 10cm' : datum.value === 'm50' ? 'SM FEST-EWB-SAFY 50cm' : datum.value === 'o10' ? 'SM observed 10cm' : datum.value === 'o50' ? 'SM observed 50cm' : datum.value === 'irr' ? 'irrigation day' : datum.value === 'thr' ? 'threshold' : 'Rainfall'"}}
          },
          "layer": [
            {"transform": [{"filter": "datum.series === 'thr'"}], "mark": {"type": "line", "strokeDash": [7, 4, 2, 4], "strokeWidth": 2}, "encoding": {}},
            {"transform": [{"filter": "datum.series === 'm10'"}], "mark": {"type": "line"}, "encoding": {}},
            {"transform": [{"filter": "datum.series === 'm50'"}], "mark": {"type": "line", "strokeWidth": 1.8}, "encoding": {"color": {"value": "#4a5bc0"}}},
            {"transform": [{"filter": "datum.series === 'o10' || datum.series === 'o50'"}], "mark": {"type": "line"}, "encoding": {}},
            {"transform": [{"filter": "datum.series === 'irr'"}], "mark": {"type": "point"}, "encoding": {}}
          ]
        }
      ]
    },
    {
      "spacing": 73,
      "hconcat": [
        {
          "data": {"name": "S5"}, "width": 487, "height": 304, "title": "S5",
          "encoding": {
            "x": {"field": "day", "type": "quantitative", "scale": {"domain": [0, 150], "nice": false, "zero": false}, "axis": {"title": null, "values": [0, 20, 40, 60, 80, 100, 120, 140], "labelExpr": "['9/5','29/5','18/6','8/7','28/7','17/8','6/9','26/9'][round(datum.value / 20)]"}},
            "y": {"field": "sm", "type": "quantitative", "scale": {"domain": [0, 0.45], "nice": false}, "axis": {"title": "soil moisture", "values": [0, 0.05, 0.1, 0.15, 0.2, 0.25, 0.3, 0.35, 0.4, 0.45], "format": ".2~f"}},
            "color": {"field": "series", "type": "nominal", "scale": {"domain": ["m10", "m50", "o10", "o50", "irr", "thr", "rain"], "range": ["#9b7d14", "#1f2d5f", "#ed7d31", "#0fa4e4", "#0063b1", "#70ad47", "#ffc000"]}, "legend": {"title": null, "orient": "none", "legendX": 22, "legendY": 1100, "columns": 3, "direction": "horizontal", "labelExpr": "datum.value === 'm10' ? 'SM FEST-EWB-SAFY 10cm' : datum.value === 'm50' ? 'SM FEST-EWB-SAFY 50cm' : datum.value === 'o10' ? 'SM observed 10cm' : datum.value === 'o50' ? 'SM observed 50cm' : datum.value === 'irr' ? 'irrigation day' : datum.value === 'thr' ? 'threshold' : 'Rainfall'"}}
          },
          "layer": [
            {"transform": [{"filter": "datum.series === 'thr'"}], "mark": {"type": "line", "strokeDash": [12, 6, 3, 6], "strokeWidth": 3}, "encoding": {}},
            {"transform": [{"filter": "datum.series !== 'thr' && datum.series !== 'irr'"}], "mark": {"type": "line"}, "encoding": {}},
            {"transform": [{"filter": "datum.series === 'irr'"}], "mark": {"type": "point"}, "encoding": {}}
          ]
        },
        {
          "data": {"name": "S6"}, "width": 454, "height": 297, "title": "S6",
          "encoding": {
            "x": {"field": "day", "type": "quantitative", "scale": {"domain": [0, 150], "nice": false, "zero": false}, "axis": {"title": null, "values": [0, 20, 40, 60, 80, 100, 120, 140], "labelExpr": "['9/5','29/5','18/6','8/7','28/7','17/8','6/9','26/9'][round(datum.value / 20)]"}},
            "color": {"field": "series", "type": "nominal", "scale": {"domain": ["m10", "m50", "o10", "o50", "irr", "thr", "rain"], "range": ["#9b7d14", "#1f2d5f", "#ed7d31", "#0fa4e4", "#0063b1", "#70ad47", "#ffc000"]}, "legend": {"title": null, "orient": "none", "legendX": 22, "legendY": 1100, "columns": 3, "direction": "horizontal", "labelExpr": "datum.value === 'm10' ? 'SM FEST-EWB-SAFY 10cm' : datum.value === 'm50' ? 'SM FEST-EWB-SAFY 50cm' : datum.value === 'o10' ? 'SM observed 10cm' : datum.value === 'o50' ? 'SM observed 50cm' : datum.value === 'irr' ? 'irrigation day' : datum.value === 'thr' ? 'threshold' : 'Rainfall'"}}
          },
          "layer": [
            {
              "encoding": {"y": {"field": "sm", "type": "quantitative", "scale": {"domain": [0, 0.45], "nice": false}, "axis": {"title": "Soil moisture", "values": [0, 0.05, 0.1, 0.15, 0.2, 0.25, 0.3, 0.35, 0.4, 0.45], "format": ".2~f"}}},
              "layer": [
                {"transform": [{"filter": "datum.series === 'thr'"}], "mark": {"type": "line", "strokeDash": [7, 4, 2, 4], "strokeWidth": 2}, "encoding": {}},
                {"transform": [{"filter": "datum.series !== 'thr' && datum.series !== 'irr' && datum.series !== 'rain'"}], "mark": {"type": "line"}, "encoding": {}},
                {"transform": [{"filter": "datum.series === 'irr'"}], "mark": {"type": "point"}, "encoding": {}}
              ]
            },
            {
              "transform": [{"filter": "datum.series === 'rain'"}],
              "mark": {"type": "line", "strokeWidth": 1.6},
              "encoding": {"y": {"field": "rain", "type": "quantitative", "scale": {"domain": [0, 40], "nice": false}, "axis": {"orient": "right", "title": "rainfall (mm)", "values": [0, 5, 10, 15, 20, 25, 30, 35, 40], "grid": false, "domain": true, "domainColor": "#d9d9d9"}}}
            }
          ],
          "resolve": {"scale": {"y": "independent"}}
        }
      ]
    }
  ]
}
